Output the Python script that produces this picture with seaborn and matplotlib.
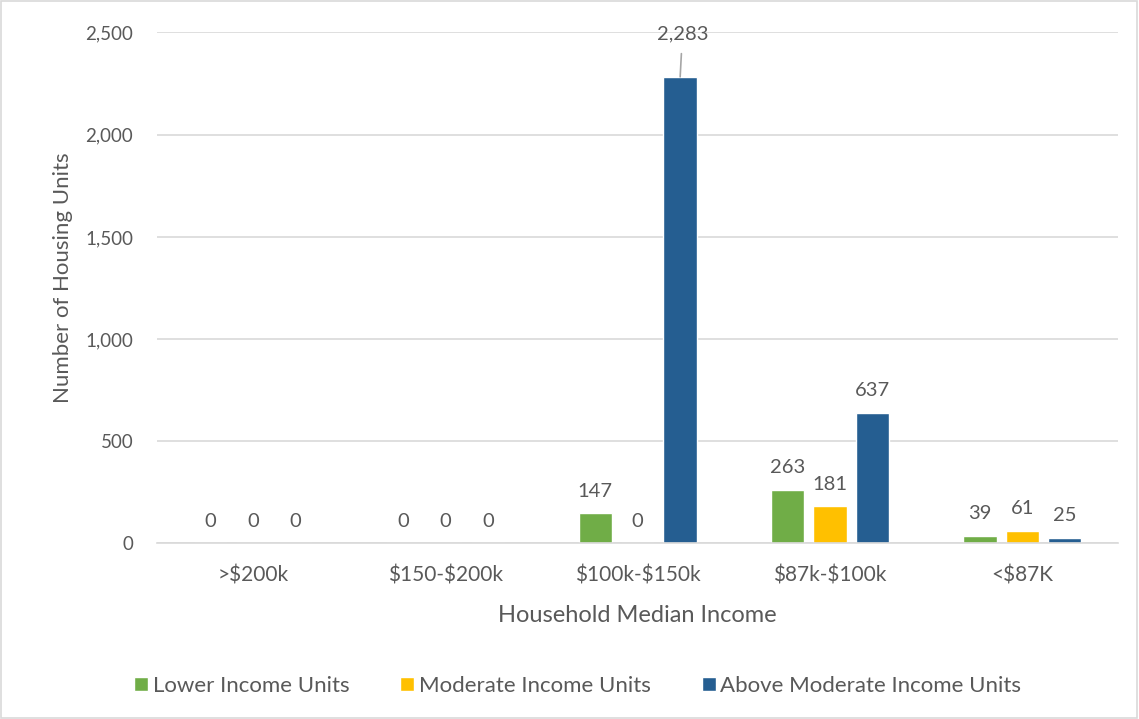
import matplotlib
matplotlib.use("Agg")
import matplotlib.pyplot as plt
import seaborn as sns
import pandas as pd
from matplotlib.patches import Rectangle

categories = [">$200k", "$150-$200k", "$100k-$150k", "$87k-$100k", "<$87K"]
series = ["Lower Income Units", "Moderate Income Units", "Above Moderate Income Units"]
lower = [0, 0, 147, 263, 39]
moderate = [0, 0, 0, 181, 61]
above = [0, 0, 2283, 637, 25]
colors = ["#70AD47", "#FFC000", "#255E91"]

rows = []
for s, vals in zip(series, [lower, moderate, above]):
    for c, v in zip(categories, vals):
        rows.append({"Income": c, "Series": s, "Units": v})
df = pd.DataFrame(rows)

sns.set_theme(style="white")
plt.rcParams["font.family"] = ["Lato", "DejaVu Sans"]
plt.rcParams["text.parse_math"] = False
text_color = "#595959"

fig = plt.figure(figsize=(11.39, 7.19), dpi=100)
ax = fig.add_axes([0.1378, 0.2441, 0.8442, 0.7107])

sns.barplot(data=df, x="Income", y="Units", hue="Series", order=categories,
            hue_order=series, palette=colors, width=0.662, gap=0.212,
            ax=ax, legend=True, saturation=1)

ax.set_ylim(0, 2500)
ax.set_xlim(-0.5, 4.5)
ax.set_yticks([0, 500, 1000, 1500, 2000, 2500])
ax.set_yticklabels(["0", "500", "1,000", "1,500", "2,000", "2,500"])
ax.set_xticks(range(len(categories)))
ax.set_xticklabels(categories)
ax.yaxis.grid(True, color="#D9D9D9", linewidth=1.2)
ax.set_axisbelow(True)
for sp in ["top", "right", "left"]:
    ax.spines[sp].set_visible(False)
ax.spines["bottom"].set_color("#D9D9D9")
ax.spines["bottom"].set_linewidth(1.2)
ax.tick_params(axis="both", length=0, colors=text_color)
ax.tick_params(axis="y", pad=17, labelsize=13.5)
ax.tick_params(axis="x", pad=16, labelsize=15)
ax.set_xlabel("Household Median Income", fontsize=17, color=text_color, labelpad=14)
ax.set_ylabel("Number of Housing Units", fontsize=16, color=text_color)
ax.yaxis.set_label_coords(-0.087, 0.52)

# data labels
for container, vals in zip(ax.containers, [lower, moderate, above]):
    for bar, v in zip(container, vals):
        x = bar.get_x() + bar.get_width() / 2
        if v > 2000:
            ax.annotate(f"{v:,}", xy=(x, v), xytext=(x + 0.012, 2495),
                        ha="center", va="center", fontsize=14.5, color=text_color,
                        annotation_clip=False,
                        arrowprops=dict(arrowstyle="-", color="#A6A6A6", lw=1.2,
                                        shrinkA=6, shrinkB=0))
        else:
            ax.annotate(f"{v:,}", xy=(x, v), xytext=(0, 10), textcoords="offset points",
                        ha="center", va="bottom", fontsize=14.5, color=text_color)

leg = ax.legend(loc="upper center", bbox_to_anchor=(0.4375, -0.22), ncol=3,
                frameon=False, fontsize=16, handlelength=0.63, handleheight=0.63,
                columnspacing=2.3, handletextpad=0.2)
for t in leg.get_texts():
    t.set_color(text_color)

fig.patches.append(Rectangle((0.001, 0.001), 0.997, 0.997, transform=fig.transFigure,
                             fill=False, edgecolor="#D9D9D9", linewidth=1.2))

fig.savefig("out.png", dpi=100)
